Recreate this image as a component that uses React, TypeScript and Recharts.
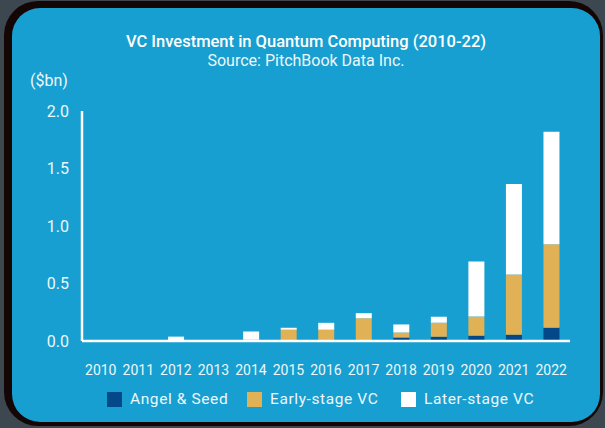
import { BarChart, Bar, XAxis, YAxis, Legend } from "recharts";

const years = ["2010", "2011", "2012", "2013", "2014", "2015", "2016", "2017", "2018", "2019", "2020", "2021", "2022"];
const angelSeed = [0, 0, 0, 0, 0, 0, 0, 0.008, 0.03, 0.037, 0.046, 0.055, 0.116];
const earlyStage = [0, 0, 0, 0, 0.01, 0.098, 0.098, 0.19, 0.044, 0.122, 0.166, 0.524, 0.725];
const laterStage = [0, 0, 0.038, 0, 0.072, 0.017, 0.06, 0.044, 0.07, 0.052, 0.48, 0.786, 0.978];
const yTicks = [0, 0.5, 1, 1.5, 2];

const series = [
  { key: "angel", name: "Angel & Seed", color: "#03498a" },
  { key: "early", name: "Early-stage VC", color: "#e0b155" },
  { key: "later", name: "Later-stage VC", color: "#ffffff" },
];

const data = years.map((year, i) => ({
  year,
  angel: angelSeed[i],
  early: earlyStage[i],
  later: laterStage[i],
}));

const FONT = "Roboto, 'Open Sans', sans-serif";
const TEXT = "#eef7fb";

function renderLegend() {
  const lefts = [107, 247, 401];
  return (
    <div style={{ position: "relative", width: 605, height: 20, fontFamily: FONT }}>
      {series.map((s, i) => (
        <div
          key={s.key}
          style={{ position: "absolute", left: lefts[i], top: 0, display: "flex", alignItems: "center" }}
        >
          <span style={{ width: 15, height: 15, background: s.color, display: "inline-block" }} />
          <span style={{ marginLeft: 8, color: TEXT, fontSize: 15.5, letterSpacing: 0.6 }}>{s.name}</span>
        </div>
      ))}
    </div>
  );
}

export default function App() {
  return (
    <div style={{ position: "fixed", left: 0, top: 0, width: 605, height: 428, background: "#3c4750", overflow: "hidden" }}>
      <div
        style={{
          position: "absolute",
          left: 4,
          top: 1,
          width: 599,
          height: 425,
          background: "#150606",
          borderRadius: 34,
        }}
      />
      <div
        style={{
          position: "absolute",
          left: 12,
          top: 8,
          width: 588,
          height: 414,
          background: "#169fd0",
          borderRadius: 28,
        }}
      />
      <div
        style={{
          position: "absolute",
          left: 0,
          top: 32,
          width: 612,
          textAlign: "center",
          fontFamily: FONT,
          color: "#ffffff",
          fontSize: 16.5,
          fontWeight: 500,
          lineHeight: "20px",
        }}
      >
        VC Investment in Quantum Computing (2010-22)
      </div>
      <div
        style={{
          position: "absolute",
          left: 0,
          top: 51,
          width: 612,
          textAlign: "center",
          fontFamily: FONT,
          color: TEXT,
          fontSize: 16,
          lineHeight: "20px",
        }}
      >
        Source: PitchBook Data Inc.
      </div>
      <div
        style={{
          position: "absolute",
          left: 30,
          top: 71,
          fontFamily: FONT,
          color: TEXT,
          fontSize: 16,
          lineHeight: "20px",
        }}
      >
        ($bn)
      </div>
      <div style={{ position: "absolute", left: 0, top: 0 }}>
        <BarChart
          width={605}
          height={428}
          data={data}
          margin={{ top: 111, right: 35, bottom: 37, left: 32 }}
          barSize={16}
        >
          <XAxis
            dataKey="year"
            axisLine={{ stroke: "#ffffff", strokeWidth: 2.5 }}
            tickLine={false}
            tickSize={0}
            tickMargin={24}
            height={30}
            interval={0}
            tick={{ fill: TEXT, fontSize: 14, fontFamily: FONT }}
          />
          <YAxis
            domain={[0, 2]}
            ticks={yTicks}
            width={50}
            axisLine={{ stroke: "#ffffff", strokeWidth: 2.5 }}
            tickLine={false}
            tickSize={0}
            tickMargin={13}
            tickFormatter={(v: number) => v.toFixed(1)}
            tick={{ fill: TEXT, fontSize: 16, fontFamily: FONT }}
          />
          {series.map((s) => (
            <Bar key={s.key} dataKey={s.key} name={s.name} stackId="a" fill={s.color} isAnimationActive={false} />
          ))}
          <Legend
            content={renderLegend}
            wrapperStyle={{ position: "absolute", left: 0, top: 390, width: 605 }}
          />
        </BarChart>
      </div>
    </div>
  );
}
